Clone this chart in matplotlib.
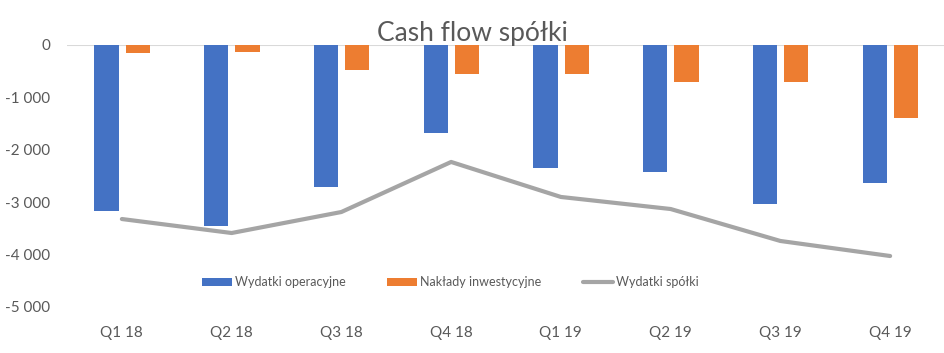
import matplotlib
matplotlib.use("Agg")
import matplotlib.pyplot as plt
import numpy as np

plt.rcParams['font.family'] = ['Lato', 'DejaVu Sans']

categories = ["Q1 18", "Q2 18", "Q3 18", "Q4 18", "Q1 19", "Q2 19", "Q3 19", "Q4 19"]
wydatki_operacyjne = [-3168, -3454, -2710, -1679, -2347, -2424, -3034, -2634]
naklady_inwestycyjne = [-153, -134, -477, -553, -553, -706, -706, -1393]
wydatki_spolki = [-3321, -3588, -3187, -2232, -2900, -3130, -3740, -4027]
yticks = [0, -1000, -2000, -3000, -4000, -5000]
ytick_labels = ["0", "-1 000", "-2 000", "-3 000", "-4 000", "-5 000"]

blue = "#4472C4"
orange = "#ED7D31"
gray = "#A5A5A5"
txt = "#595959"

fig = plt.figure(figsize=(9.45, 3.53), dpi=100)
ax = fig.add_axes([67/945, 1 - 307/353, (945 - 67)/945, (307 - 45)/353])

x = np.arange(len(categories))
w = 0.22
b1 = ax.bar(x - 0.14, wydatki_operacyjne, width=w, color=blue, label="Wydatki operacyjne", zorder=2)
b2 = ax.bar(x + 0.145, naklady_inwestycyjne, width=w, color=orange, label="Nakłady inwestycyjne", zorder=2)
l1, = ax.plot(x, wydatki_spolki, color=gray, lw=3, solid_capstyle='round', label="Wydatki spółki", zorder=3)

ax.set_xlim(-0.5, len(categories) - 0.5)
ax.set_ylim(-5000, 0)
ax.set_yticks(yticks)
ax.set_yticklabels(ytick_labels)
ax.set_xticks(x)
ax.set_xticklabels(categories)
ax.axhline(0, color="#D9D9D9", lw=1.5, zorder=1)
for s in ax.spines.values():
    s.set_visible(False)
ax.tick_params(axis='both', length=0, colors=txt, labelsize=11)
ax.tick_params(axis='x', pad=14)
ax.tick_params(axis='y', pad=12)

fig.text(0.5, 1 - 33/353, "Cash flow spółki", ha='center', va='center', fontsize=19, color=txt)

leg = ax.legend(handles=[b1, b2, l1], loc='center left',
                bbox_to_anchor=((196 - 67) / 878, (307 - 282) / (307 - 45)), ncol=3,
                frameon=False, fontsize=9, handlelength=2.4, handleheight=0.6, columnspacing=3.3,
                handletextpad=0.25, labelcolor=txt, borderpad=0)

fig.savefig("out.png", dpi=100)
